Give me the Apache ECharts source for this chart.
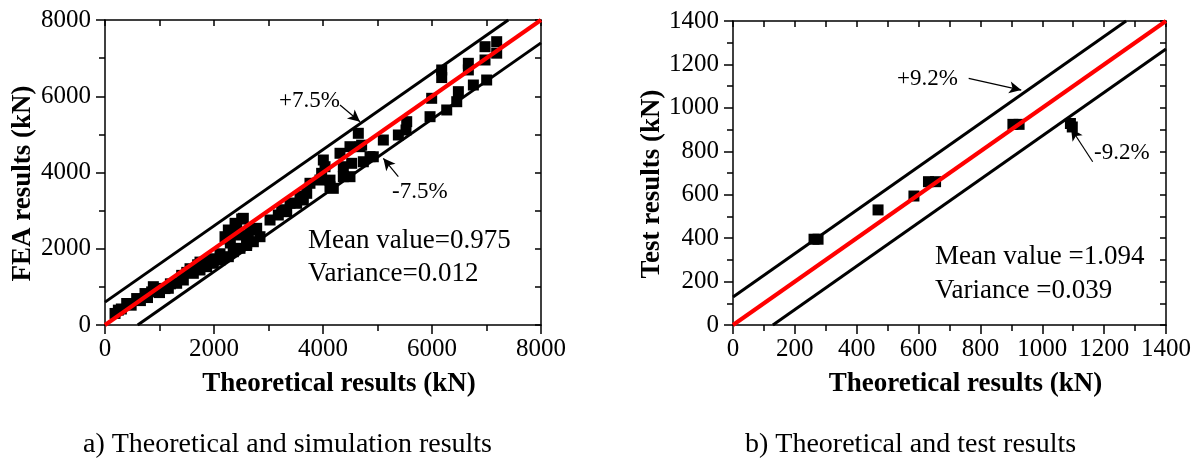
<!DOCTYPE html>
<html>
<head>
<meta charset="utf-8">
<script src="https://cdn.jsdelivr.net/npm/echarts@6/dist/echarts.min.js"></script>
<style>
html,body{margin:0;padding:0;background:#fff;}
#c{width:1201px;height:461px;}
</style>
</head>
<body>
<div id="c"></div>
<script>
// ---- Data (a) Theoretical vs FEA (kN) ----
var feaTheory = [184,245,300,398,480,581,650,734,780,856,887,950,1000,1101,1162,1200,1315,1407,1437,1500,1560,1621,1700,1743,1743,1866,1900,1988,1988,2110,2110,2202,2232,2263,2263,2300,2355,2355,2386,2416,2447,2477,2508,2538,2599,2600,2630,2661,2722,2783,2844,3028,3180,3242,3334,3395,3517,3578,3639,3701,3761,3945,3975,4006,4037,4128,4128,4189,4312,4373,4373,4495,4495,4526,4648,4679,4709,4740,4863,4923,5107,5383,5523,5536,5964,5994,6178,6178,6270,6454,6484,6667,6667,6759,6973,6973,7003,7187,7187];
var feaResult = [303,390,420,564,520,694,640,825,720,868,1005,960,850,955,963,1080,1094,1302,1180,1380,1476,1356,1580,1443,1650,1530,1700,1618,1737,1705,1868,2316,2259,2492,1792,2150,1923,1998,2667,2606,2361,2011,2780,2798,2085,2142,2346,2492,2185,2536,2316,2754,2885,3023,2972,3196,3192,3370,3279,3454,3717,3803,3978,4328,4152,3627,3800,3585,4504,4152,3890,4677,3890,4241,5028,4677,4717,4282,4415,4413,4852,4984,5115,5333,5464,5946,6689,6490,5640,5857,6120,6864,6690,6295,6951,7300,6426,7130,7431];
var feaMeanLine = [[0,0],[8000,8000]];
var feaUpper = [[0,600],[7400,8000]];
var feaLower = [[600,0],[8000,7400]];

// ---- Data (b) Theoretical vs Test (kN) ----
var testTheory = [262,275,469,585,632,655,905,925,1091,1097];
var testResult = [395,395,530,594,660,660,924,924,928,912];
var testMeanLine = [[0,0],[1400,1400]];
var testUpper = [[0,129],[1271,1400]];
var testLower = [[129,0],[1400,1271]];

// annotation arrows (data coords)
var feaArrowUp = [[4312,5771],[4679,5333]];
var feaArrowDown = [[5382,3890],[5107,4373]];
var testArrowUp = [[762,1136],[932,1082]];
var testArrowDown = [[1163,752],[1093,905]];

function pairs(xs, ys){ return xs.map(function(x,i){ return [x, ys[i]]; }); }

var FONT = 'Liberation Serif, Times New Roman, serif';
var plain = function(v){ return String(v); };

function mainX(grid, max, interval, name){
  return {
    gridIndex: grid, type:'value', min:0, max:max, interval:interval, position:'bottom',
    name:name, nameLocation:'middle', nameGap:46,
    nameTextStyle:{fontFamily:FONT, fontWeight:'bold', fontSize:27, color:'#000', padding:[0,0,0,32]},
    axisLine:{show:true, onZero:false, lineStyle:{color:'#000', width:1.5}},
    axisTick:{show:true, inside:false, length:9, lineStyle:{color:'#000', width:1.5}},
    minorTick:{show:true, splitNumber:2, length:6, lineStyle:{color:'#000', width:1.5}},
    axisLabel:{fontFamily:FONT, fontSize:25, color:'#000', margin:12, formatter:plain},
    splitLine:{show:false}, minorSplitLine:{show:false}
  };
}
function mirrorX(grid, max, interval){
  return {
    gridIndex: grid, type:'value', min:0, max:max, interval:interval, position:'top',
    axisLine:{show:true, onZero:false, lineStyle:{color:'#000', width:1.5}},
    axisTick:{show:true, inside:true, length:6, lineStyle:{color:'#000', width:1.5}},
    minorTick:{show:false},
    axisLabel:{show:false}, splitLine:{show:false}
  };
}
function mainY(grid, max, interval, name, gap){
  return {
    gridIndex: grid, type:'value', min:0, max:max, interval:interval, position:'left',
    name:name, nameLocation:'middle', nameGap:gap, nameRotate:90,
    nameTextStyle:{fontFamily:FONT, fontWeight:'bold', fontSize:27, color:'#000', padding:[0,22,0,0]},
    axisLine:{show:true, onZero:false, lineStyle:{color:'#000', width:1.5}},
    axisTick:{show:true, inside:false, length:9, lineStyle:{color:'#000', width:1.5}},
    minorTick:{show:true, splitNumber:2, length:6, lineStyle:{color:'#000', width:1.5}},
    axisLabel:{fontFamily:FONT, fontSize:25, color:'#000', margin:14, formatter:plain},
    splitLine:{show:false}
  };
}
function mirrorY(grid, max, interval){
  return {
    gridIndex: grid, type:'value', min:0, max:max, interval:interval, position:'right',
    axisLine:{show:true, onZero:false, lineStyle:{color:'#000', width:1.5}},
    axisTick:{show:true, inside:true, length:6, lineStyle:{color:'#000', width:1.5}},
    minorTick:{show:false},
    axisLabel:{show:false}, splitLine:{show:false}
  };
}
function lineSeries(xi, yi, data, color, width, z){
  return {type:'line', xAxisIndex:xi, yAxisIndex:yi, data:data, showSymbol:false, symbol:'none',
    lineStyle:{color:color, width:width}, silent:true, animation:false, z:z, clip:true};
}
function arrowSeries(xi, yi, arrows){
  return {type:'line', xAxisIndex:xi, yAxisIndex:yi, data:[], silent:true, animation:false,
    markLine:{silent:true, animation:false, symbol:['none','arrow'], symbolSize:[9,12],
      label:{show:false},
      lineStyle:{color:'#000', width:1.2, type:'solid'},
      data: arrows.map(function(a){ return [{coord:a[0]},{coord:a[1]}]; })}};
}

var chart = echarts.init(document.getElementById('c'), null, {renderer:'canvas'});
var option = {
  backgroundColor:'#fff',
  animation:false,
  grid:[
    {left:105, top:20, width:436, height:305, containLabel:false, outerBoundsMode:'none'},
    {left:733, top:21, width:433, height:304, containLabel:false, outerBoundsMode:'none'}
  ],
  xAxis:[
    mainX(0, 8000, 2000, 'Theoretical results (kN)'),
    mirrorX(0, 8000, 1000),
    mainX(1, 1400, 200, 'Theoretical results (kN)'),
    mirrorX(1, 1400, 100)
  ],
  yAxis:[
    mainY(0, 8000, 2000, 'FEA results (kN)', 68),
    mirrorY(0, 8000, 1000),
    mainY(1, 1400, 200, 'Test results (kN)', 57),
    mirrorY(1, 1400, 100)
  ],
  series:[
    {type:'scatter', xAxisIndex:0, yAxisIndex:0, data:pairs(feaTheory, feaResult), symbol:'rect', symbolSize:11,
      itemStyle:{color:'#000', opacity:1}, z:2, silent:true},
    lineSeries(0,0,feaUpper,'#000',3,3),
    lineSeries(0,0,feaLower,'#000',3,3),
    lineSeries(0,0,feaMeanLine,'#ff0000',4,4),
    arrowSeries(0,0,[feaArrowUp, feaArrowDown]),
    {type:'scatter', xAxisIndex:2, yAxisIndex:2, data:pairs(testTheory, testResult), symbol:'rect', symbolSize:11,
      itemStyle:{color:'#000', opacity:1}, z:2, silent:true},
    lineSeries(2,2,testUpper,'#000',3,3),
    lineSeries(2,2,testLower,'#000',3,3),
    lineSeries(2,2,testMeanLine,'#ff0000',4,4),
    arrowSeries(2,2,[testArrowUp, testArrowDown])
  ],
  graphic:[
    {type:'text', left:279, top:89, style:{text:'+7.5%', font:'23px '+FONT, fill:'#000'}},
    {type:'text', left:392, top:180, style:{text:'-7.5%', font:'23px '+FONT, fill:'#000'}},
    {type:'text', left:308, top:227, style:{text:'Mean value=0.975', font:'27px '+FONT, fill:'#000'}},
    {type:'text', left:308, top:260, style:{text:'Variance=0.012', font:'27px '+FONT, fill:'#000'}},
    {type:'text', left:897, top:67, style:{text:'+9.2%', font:'23px '+FONT, fill:'#000'}},
    {type:'text', left:1094, top:141, style:{text:'-9.2%', font:'23px '+FONT, fill:'#000'}},
    {type:'text', left:935, top:243, style:{text:'Mean value =1.094', font:'27px '+FONT, fill:'#000'}},
    {type:'text', left:935, top:277, style:{text:'Variance =0.039', font:'27px '+FONT, fill:'#000'}},
    {type:'text', left:83, top:431, style:{text:'a) Theoretical and simulation results', font:'28px '+FONT, fill:'#000'}},
    {type:'text', left:745, top:431, style:{text:'b) Theoretical and test results', font:'28px '+FONT, fill:'#000'}}
  ]
};
chart.setOption(option);
</script>
</body>
</html>
